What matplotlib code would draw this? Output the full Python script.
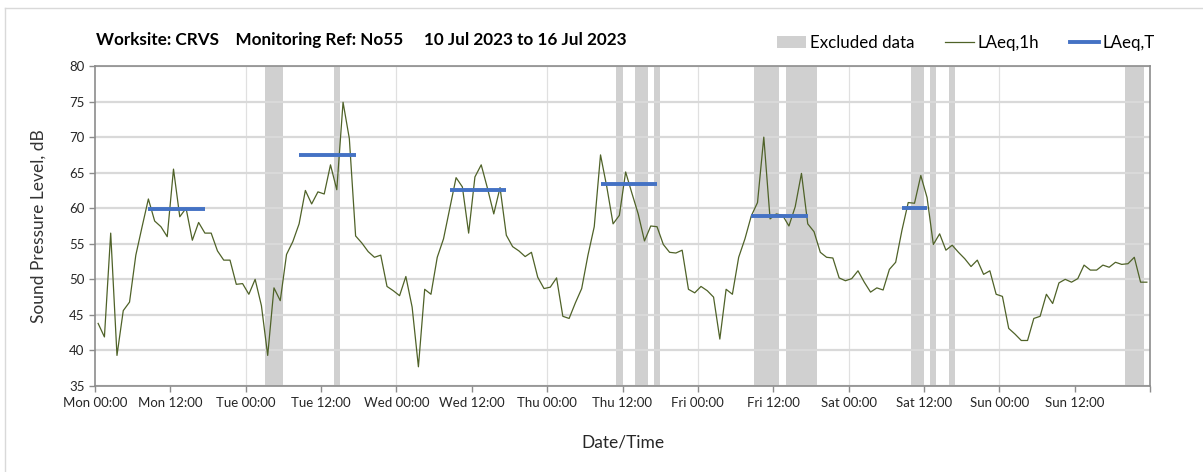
import numpy as np
import matplotlib
matplotlib.use("Agg")
import matplotlib.pyplot as plt
from matplotlib.patches import Patch
from matplotlib.lines import Line2D

# ---- data ----
hours = np.arange(168) + 0.5
laeq_1h = [
    # Mon
    43.8, 41.9, 56.5, 39.3, 45.6, 46.8, 53.4, 57.4, 61.3, 58.2, 57.4, 56.0,
    65.5, 58.8, 60.0, 55.5, 58.0, 56.5, 56.5, 54.0, 52.7, 52.7, 49.3, 49.4,
    # Tue
    47.9, 50.0, 46.3, 39.3, 48.8, 47.0, 53.5, 55.3, 57.8, 62.5, 60.6, 62.3,
    62.0, 66.1, 62.6, 74.9, 69.8, 56.1, 55.1, 53.9, 53.1, 53.4, 49.0, 48.4,
    # Wed
    47.7, 50.4, 46.1, 37.7, 48.6, 47.9, 53.1, 55.7, 60.0, 64.3, 63.0, 56.5,
    64.4, 66.1, 62.8, 59.2, 62.9, 56.2, 54.6, 54.0, 53.2, 53.8, 50.3, 48.7,
    # Thu
    48.9, 50.2, 44.8, 44.5, 46.7, 48.7, 53.4, 57.4, 67.5, 63.0, 57.8, 59.0,
    65.1, 62.1, 59.2, 55.4, 57.5, 57.4, 54.9, 53.8, 53.7, 54.1, 48.6, 48.1,
    # Fri
    49.0, 48.4, 47.5, 41.6, 48.6, 47.9, 53.1, 55.7, 58.9, 60.8, 70.0, 58.5,
    59.2, 59.0, 57.5, 60.2, 64.9, 57.8, 56.7, 53.8, 53.1, 53.0, 50.2, 49.8,
    # Sat
    50.1, 51.2, 49.6, 48.2, 48.8, 48.5, 51.4, 52.4, 56.9, 60.8, 60.7, 64.6,
    61.5, 54.9, 56.4, 54.1, 54.8, 53.8, 52.9, 51.8, 52.7, 50.7, 51.2, 47.9,
    # Sun
    47.6, 43.1, 42.3, 41.4, 41.4, 44.5, 44.8, 47.9, 46.6, 49.5, 50.0, 49.6,
    50.1, 52.0, 51.3, 51.3, 52.0, 51.7, 52.4, 52.1, 52.2, 53.1, 49.6, 49.6,
]
laeqT_start = [8.5, 32.5, 56.5, 80.5, 104.5, 128.5]
laeqT_end = [17.5, 41.5, 65.5, 89.5, 113.5, 132.5]
laeqT_value = [59.9, 67.5, 62.6, 63.4, 58.9, 60.0]

excl_start = [27, 38, 83, 86, 89, 105, 110, 130, 133, 136, 164]
excl_end = [30, 39, 84, 88, 90, 109, 115, 132, 134, 137, 167]

tick_hours = list(range(0, 169, 12))
tick_labels = ["Mon 00:00", "Mon 12:00", "Tue 00:00", "Tue 12:00", "Wed 00:00",
               "Wed 12:00", "Thu 00:00", "Thu 12:00", "Fri 00:00", "Fri 12:00",
               "Sat 00:00", "Sat 12:00", "Sun 00:00", "Sun 12:00", ""]
day_lines = list(range(24, 168, 24))

# ---- style ----
plt.rcParams['font.family'] = ['Lato', 'DejaVu Sans']
W, H = 1203, 472
fig = plt.figure(figsize=(W / 100, H / 100), dpi=100)
ax = fig.add_axes([95 / W, 1 - 386 / H, (1150 - 95) / W, (386 - 66) / H])

band_col = '#d0d0d0'
line_col = '#4f6228'
blue_col = '#4472c4'
grid_col = '#d9d9d9'
spine_col = '#8c8c8c'

for s, e in zip(excl_start, excl_end):
    ax.axvspan(s, e, color=band_col, lw=0, zorder=0.2)

ax.set_axisbelow(True)
ax.yaxis.grid(True, color=grid_col, lw=1.6, zorder=0.5)
for d in day_lines:
    ax.axvline(d, color='#e0e0e0', lw=0.9, zorder=0.5)

ax.plot(hours, laeq_1h, color=line_col, lw=0.9, zorder=3)
ax.hlines(laeqT_value, laeqT_start, laeqT_end, color=blue_col, lw=2.8, zorder=4)

ax.set_xlim(0, 168)
ax.set_ylim(35, 80)
ax.set_yticks(range(35, 81, 5))
ax.set_xticks(tick_hours)
ax.set_xticklabels(tick_labels)
ax.tick_params(axis='both', colors=spine_col, labelcolor='#262626', labelsize=9.5,
               direction='out', length=4, width=1)
ax.tick_params(axis='x', pad=4)
for sp in ax.spines.values():
    sp.set_color(spine_col)
    sp.set_linewidth(1.2)

ax.set_ylabel("Sound Pressure Level, dB", fontsize=12.5, color='#333333', labelpad=16)
ax.set_xlabel("Date/Time", fontsize=12.5, color='#262626', labelpad=18)

fig.text(96 / W, 1 - 40 / H,
         "Worksite: CRVS    Monitoring Ref: No55     10 Jul 2023 to 16 Jul 2023",
         fontsize=12.3, fontweight='bold', color='black', va='center', ha='left')

handles = [Patch(facecolor=band_col, edgecolor='none'),
           Line2D([], [], color=line_col, lw=0.9),
           Line2D([], [], color=blue_col, lw=2.8)]
fig.legend(handles, ["Excluded data", "LAeq,1h", "LAeq,T"], ncol=3,
           loc='center right', bbox_to_anchor=(1162 / W, 1 - 43 / H),
           frameon=False, fontsize=12.2, handlelength=1.7, handleheight=0.7,
           handletextpad=0.25, columnspacing=1.8, borderaxespad=0)

# outer chart-area border
fig.add_artist(Line2D([5 / W, 5 / W], [0, 1 - 8 / H], color='#d9d9d9', lw=1,
                      transform=fig.transFigure))
fig.add_artist(Line2D([5 / W, 1], [1 - 8 / H, 1 - 8 / H], color='#d9d9d9', lw=1,
                      transform=fig.transFigure))

fig.savefig("out.png", dpi=100, facecolor='white')
